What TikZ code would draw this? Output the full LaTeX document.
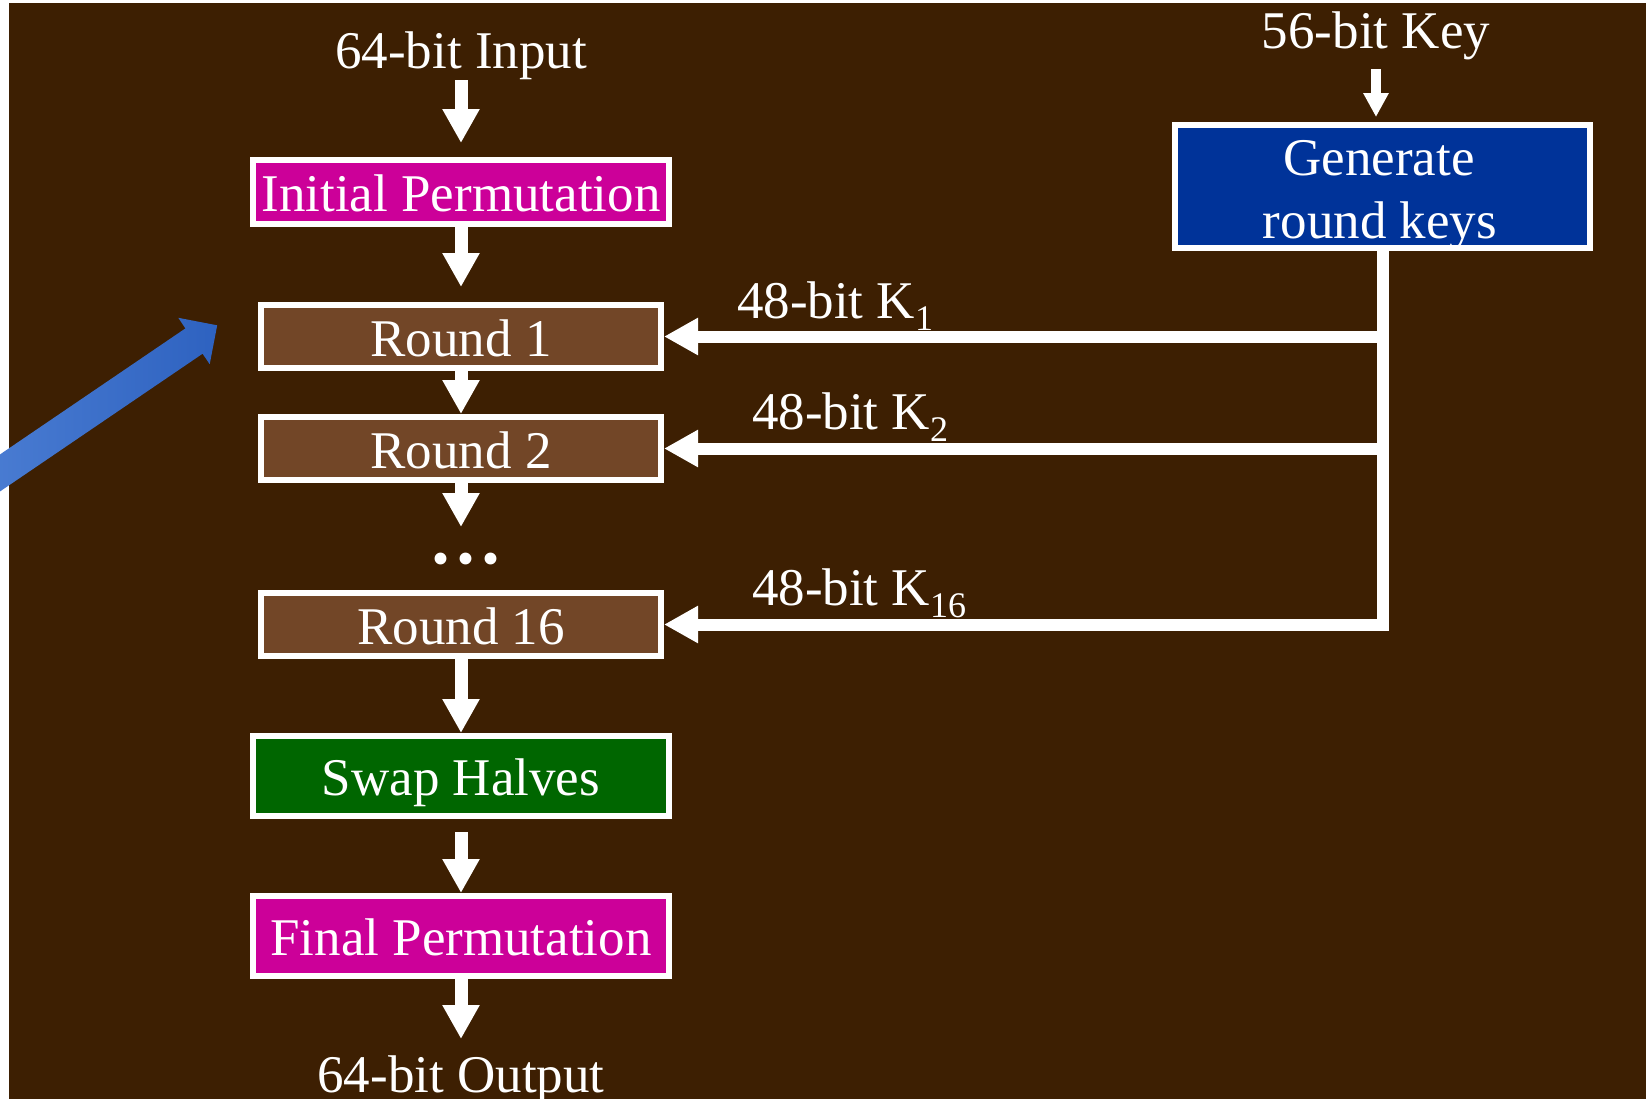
\documentclass[tikz,border=0pt]{standalone}
\usepackage{fontspec}
\setmainfont{Liberation Serif}
\usetikzlibrary{arrows.meta,calc}

\definecolor{bg}{RGB}{61,31,2}
\definecolor{roundfill}{RGB}{114,70,39}
\definecolor{permfill}{RGB}{204,0,153}
\definecolor{keyfill}{RGB}{0,51,153}
\definecolor{swapfill}{RGB}{0,102,0}
\definecolor{pointerA}{RGB}{80,130,214}
\definecolor{pointerB}{RGB}{46,98,192}

% subscript of a round key
\newcommand\keyidx[1]{\raisebox{-6pt}{\fontsize{18pt}{18pt}\selectfont #1}}

\tikzset{
  txt/.style={text=white, font=\fontsize{26.5pt}{31.5pt}\selectfont, inner sep=0pt},
  stagebox/.style={draw=white, line width=3pt, txt, text height=19.5pt, text depth=0pt, outer sep=1.5pt},
  widebox/.style={stagebox, minimum width=208pt, minimum height=32pt},
  roundbox/.style={stagebox, fill=roundfill, minimum width=200pt, minimum height=31.5pt},
  keybox/.style={stagebox, fill=keyfill, minimum width=207.5pt, minimum height=61.5pt},
  lbl/.style={txt, text height=18.5pt, text depth=0pt, outer sep=0pt, anchor=base},
  flow/.style={white, line width=6.5pt, -{Triangle[length=17pt,width=17.5pt]}},
  keyfeed/.style={white, line width=6pt, -{Triangle[length=17pt,width=17.5pt]}},
  keyin/.style={white, line width=5pt, -{Triangle[length=12pt,width=12pt]}},
}

\begin{document}
\begin{tikzpicture}[x=0.5pt,y=-0.5pt]
\useasboundingbox (0,0) rectangle (1646,1099);
\begin{scope}
\clip (0,0) rectangle (1646,1099);
\fill[white] (0,0) rectangle (1646,1099);
\fill[bg] (9,2.5) rectangle (1646,1099);

% main data path
\node[lbl] (in) at (461,68) {64-bit Input};
\node[widebox, fill=permfill] (ip) at (461,192) {Initial Permutation};
\node[roundbox] (r1) at (461,336.5) {Round 1};
\node[roundbox] (r2) at (461,448.5) {Round 2};
\node[lbl, font=\fontsize{50pt}{50pt}\selectfont, text height=0pt] (dots) at (466,563) {...};
\node[roundbox] (r16) at (461,624.5) {Round 16};
\node[widebox, fill=swapfill, minimum height=40pt] (swap) at (461,776) {Swap Halves};
\node[widebox, fill=permfill, minimum height=40pt] (fp) at (461,936) {Final Permutation};
\node[lbl] (out) at (461,1092) {64-bit Output};

\draw[flow, shorten <=6pt, shorten >=7pt] (in.south) -- (ip.north);
\draw[flow, shorten >=7.5pt] (ip.south) -- (r1.north);
\draw[flow] (r1.south) -- (r2.north);
\draw[flow, shorten >=17.5pt] (r2.south) -- (r2.south |- dots.north);
\draw[flow] (r16.south) -- (swap.north);
\draw[flow, shorten <=6.5pt] (swap.south) -- (fp.north);
\draw[flow, shorten >=8pt] (fp.south) -- (out.north);

% key schedule
\node[lbl] (key) at (1376,48) {56-bit Key};
\node[keybox] (gen) at (1382.5,186.5) {};
\node[lbl] at (1379,175) {Generate};
\node[lbl] at (1380,238) {round keys};

\draw[keyin, shorten <=10.5pt, shorten >=2.5pt] (key.south) -- (key.south |- gen.north);
\draw[keyfeed] (gen.south) |- (r16.east);
\draw[keyfeed] (gen.south |- r1.east) -- (r1.east);
\draw[keyfeed] (gen.south |- r2.east) -- (r2.east);

\node[lbl, anchor=base west] (k1) at (737,318) {48-bit K\keyidx{1}};
\node[lbl, anchor=base west] (k2) at (752,429) {48-bit K\keyidx{2}};
\node[lbl, anchor=base west] (k16) at (752,605) {48-bit K\keyidx{16}};

% pointer arrow
\shade[left color=pointerA, right color=pointerB]
  (-62.6,497) -- (185.4,328.4) -- (178.3,317.8) -- (217.2,325.3)
  -- (209.7,364.2) -- (202.6,353.7) -- (-45.4,522.3) -- cycle;
\end{scope}
\end{tikzpicture}
\end{document}
